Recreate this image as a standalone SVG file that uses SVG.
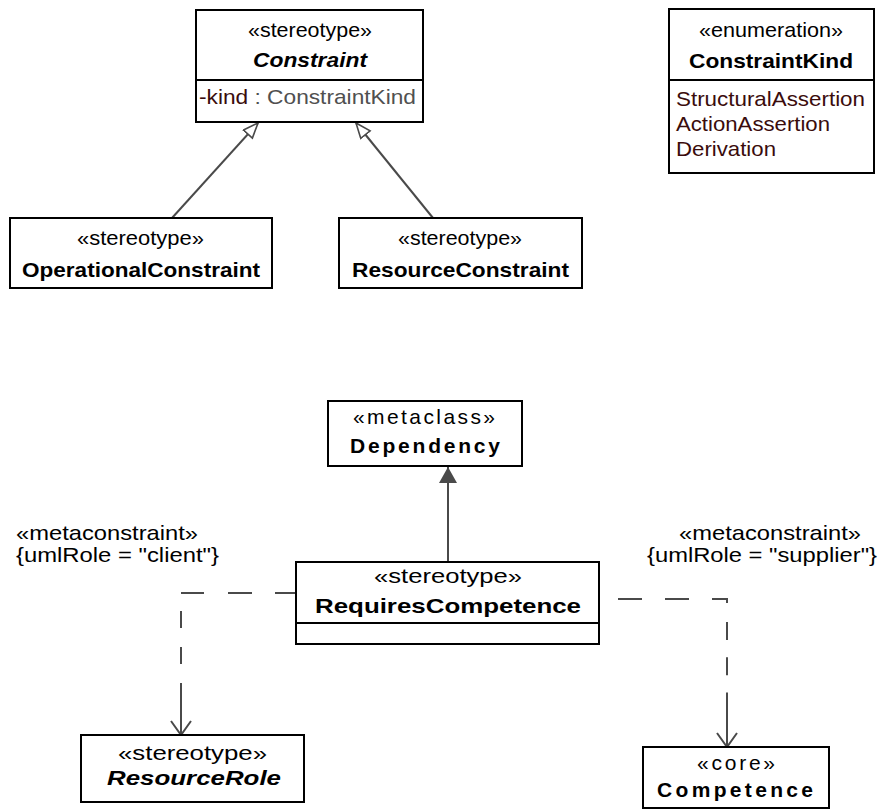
<svg xmlns="http://www.w3.org/2000/svg" width="882" height="812" viewBox="0 0 882 812">
<style>
.box{fill:#fff;stroke:#000;stroke-width:2}
.div{stroke:#000;stroke-width:2}
text{font-family:"Liberation Sans",Arial,sans-serif;font-size:21px;fill:#000}
.b{font-weight:bold}
.bi{font-weight:bold;font-style:italic}
.lit{fill:#3a0c0c}
.gr{fill:#505050}
.conn{fill:none;stroke:#4a4a4a;stroke-width:2}
</style>
<defs>
<marker id="hollow" markerUnits="userSpaceOnUse" markerWidth="20" markerHeight="16" refX="16" refY="7" orient="auto">
<path d="M1,1 L16,7 L1,13 Z" fill="#fff" stroke="#4a4a4a" stroke-width="1.6"/>
</marker>
<marker id="filled" markerUnits="userSpaceOnUse" markerWidth="20" markerHeight="22" refX="16" refY="10" orient="auto">
<path d="M0,1 L16,10 L0,19 Z" fill="#4a4a4a"/>
</marker>
<marker id="open" markerUnits="userSpaceOnUse" markerWidth="18" markerHeight="24" refX="15" refY="11" orient="auto">
<path d="M1,1 L15,11 L1,21" fill="none" stroke="#4a4a4a" stroke-width="2"/>
</marker>
</defs>

<g id="connectors">
<line class="conn" x1="172" y1="218" x2="258" y2="123" marker-end="url(#hollow)"/>
<line class="conn" x1="433" y1="218" x2="356" y2="123" marker-end="url(#hollow)"/>
<line class="conn" x1="448" y1="562" x2="448" y2="467" marker-end="url(#filled)"/>
<path class="conn" d="M296,593 H181" stroke-dasharray="21 23 24 24 23"/>
<path class="conn" d="M181,611 V735" stroke-dasharray="17 19"/>
<line class="conn" x1="181" y1="700" x2="181" y2="735" stroke="none" marker-end="url(#open)"/>
<path class="conn" d="M599,599 H727 V603" stroke-dasharray="24 23" stroke-dashoffset="28"/>
<path class="conn" d="M727,622 V747" stroke-dasharray="18 17.3"/>
<line class="conn" x1="727" y1="710" x2="727" y2="747" stroke="none" marker-end="url(#open)"/>
</g>

<g id="Constraint">
<rect class="box" x="196" y="10" width="227" height="112"/>
<line class="div" x1="196" y1="80" x2="423" y2="80"/>
<text x="248" y="37" textLength="124" lengthAdjust="spacingAndGlyphs">«stereotype»</text>
<text class="bi" x="253" y="67" textLength="114" lengthAdjust="spacingAndGlyphs">Constraint</text>
<text x="199" y="104" textLength="217" lengthAdjust="spacingAndGlyphs"><tspan class="lit">-kind</tspan><tspan class="gr"> : ConstraintKind</tspan></text>
</g>

<g id="ConstraintKind">
<rect class="box" x="669" y="9" width="205" height="164"/>
<line class="div" x1="669" y1="80" x2="874" y2="80"/>
<text x="699" y="37" textLength="144" lengthAdjust="spacingAndGlyphs">«enumeration»</text>
<text class="b" x="689" y="68" textLength="164" lengthAdjust="spacingAndGlyphs">ConstraintKind</text>
<text class="lit" x="676" y="106" textLength="189" lengthAdjust="spacingAndGlyphs">StructuralAssertion</text>
<text class="lit" x="676" y="131" textLength="154" lengthAdjust="spacingAndGlyphs">ActionAssertion</text>
<text class="lit" x="676" y="156" textLength="100" lengthAdjust="spacingAndGlyphs">Derivation</text>
</g>

<g id="OperationalConstraint">
<rect class="box" x="10" y="218" width="262" height="70"/>
<text x="77" y="245" textLength="127" lengthAdjust="spacingAndGlyphs">«stereotype»</text>
<text class="b" x="22" y="277" textLength="238" lengthAdjust="spacingAndGlyphs">OperationalConstraint</text>
</g>

<g id="ResourceConstraint">
<rect class="box" x="339" y="218" width="243" height="70"/>
<text x="398" y="245" textLength="124" lengthAdjust="spacingAndGlyphs">«stereotype»</text>
<text class="b" x="352" y="277" textLength="217" lengthAdjust="spacingAndGlyphs">ResourceConstraint</text>
</g>

<g id="Dependency">
<rect class="box" x="328" y="401" width="194" height="65"/>
<text x="353" y="424" textLength="142" lengthAdjust="spacing">«metaclass»</text>
<text class="b" x="350" y="453" textLength="150" lengthAdjust="spacing">Dependency</text>
</g>

<g id="RequiresCompetence">
<rect class="box" x="296" y="562" width="303" height="82"/>
<line class="div" x1="296" y1="623" x2="599" y2="623"/>
<text x="374" y="583" textLength="148" lengthAdjust="spacingAndGlyphs">«stereotype»</text>
<text class="b" x="315" y="613" textLength="266" lengthAdjust="spacingAndGlyphs">RequiresCompetence</text>
</g>

<g id="ResourceRole">
<rect class="box" x="81" y="735" width="223" height="67"/>
<text x="118" y="760" textLength="149" lengthAdjust="spacingAndGlyphs">«stereotype»</text>
<text class="bi" x="107" y="785" textLength="174" lengthAdjust="spacingAndGlyphs">ResourceRole</text>
</g>

<g id="Competence">
<rect class="box" x="643" y="747" width="186" height="61"/>
<text x="697" y="770" textLength="78" lengthAdjust="spacing">«core»</text>
<text class="b" x="657" y="797" textLength="156" lengthAdjust="spacing">Competence</text>
</g>

<g id="labels">
<text x="16" y="540" textLength="182" lengthAdjust="spacingAndGlyphs">«metaconstraint»</text>
<text x="16" y="562" textLength="203" lengthAdjust="spacingAndGlyphs">{umlRole = "client"}</text>
<text x="679" y="540" textLength="182" lengthAdjust="spacingAndGlyphs">«metaconstraint»</text>
<text x="647" y="562" textLength="230" lengthAdjust="spacingAndGlyphs">{umlRole = "supplier"}</text>
</g>
</svg>
